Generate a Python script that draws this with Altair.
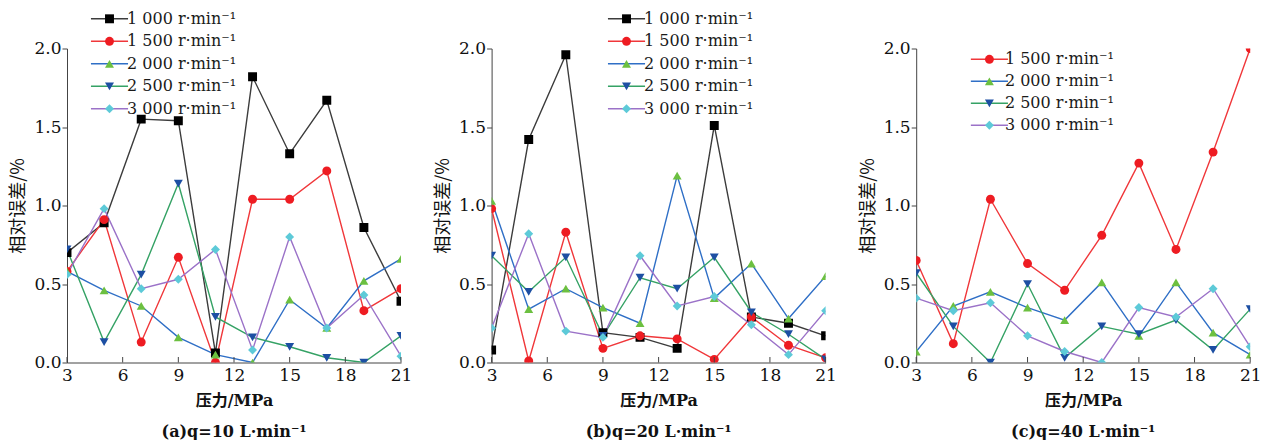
import altair as alt
import pandas as pd

# ---------------- data ----------------
pressure = [3, 5, 7, 9, 11, 13, 15, 17, 19, 21]

names_ab = ["1 000 r·min⁻¹", "1 500 r·min⁻¹", "2 000 r·min⁻¹", "2 500 r·min⁻¹", "3 000 r·min⁻¹"]
names_c = ["1 500 r·min⁻¹", "2 000 r·min⁻¹", "2 500 r·min⁻¹", "3 000 r·min⁻¹"]

# (a) q = 10 L/min
a_1000 = [0.70, 0.89, 1.55, 1.54, 0.06, 1.82, 1.33, 1.67, 0.86, 0.39]
a_1500 = [0.58, 0.91, 0.13, 0.67, 0.00, 1.04, 1.04, 1.22, 0.33, 0.47]
a_2000 = [0.58, 0.46, 0.36, 0.16, 0.05, 0.00, 0.40, 0.22, 0.52, 0.66]
a_2500 = [0.72, 0.13, 0.56, 1.14, 0.29, 0.16, 0.10, 0.03, 0.00, 0.17]
a_3000 = [0.56, 0.98, 0.47, 0.53, 0.72, 0.08, 0.80, 0.22, 0.43, 0.04]

# (b) q = 20 L/min
b_1000 = [0.08, 1.42, 1.96, 0.19, 0.16, 0.09, 1.51, 0.29, 0.25, 0.17]
b_1500 = [0.98, 0.01, 0.83, 0.09, 0.17, 0.15, 0.02, 0.29, 0.11, 0.03]
b_2000 = [1.03, 0.34, 0.47, 0.35, 0.25, 1.19, 0.41, 0.63, 0.28, 0.55]
b_2500 = [0.68, 0.45, 0.67, 0.17, 0.54, 0.47, 0.67, 0.32, 0.18, 0.02]
b_3000 = [0.22, 0.82, 0.20, 0.16, 0.68, 0.36, 0.42, 0.24, 0.05, 0.33]

# (c) q = 40 L/min
c_1500 = [0.65, 0.12, 1.04, 0.63, 0.46, 0.81, 1.27, 0.72, 1.34, 2.00]
c_2000 = [0.07, 0.36, 0.45, 0.35, 0.27, 0.51, 0.17, 0.51, 0.19, 0.05]
c_2500 = [0.57, 0.23, 0.00, 0.50, 0.03, 0.23, 0.18, 0.27, 0.08, 0.34]
c_3000 = [0.41, 0.33, 0.38, 0.17, 0.07, 0.00, 0.35, 0.29, 0.47, 0.10]

x_ticks = [3, 6, 9, 12, 15, 18, 21]
y_ticks = [0.0, 0.5, 1.0, 1.5, 2.0]
captions = ["(a)q=10 L·min⁻¹", "(b)q=20 L·min⁻¹", "(c)q=40 L·min⁻¹"]
x_title = "压力/MPa"
y_title = "相对误差/%"

# ---------------- styles ----------------
line_colors = {"1 000 r·min⁻¹": "#3c3c3c", "1 500 r·min⁻¹": "#f0373a",
               "2 000 r·min⁻¹": "#2f6fc6", "2 500 r·min⁻¹": "#35a265",
               "3 000 r·min⁻¹": "#9b72c8"}
marker_colors = {"1 000 r·min⁻¹": "#000000", "1 500 r·min⁻¹": "#ee1c22",
                 "2 000 r·min⁻¹": "#6cc040", "2 500 r·min⁻¹": "#1d4fa3",
                 "3 000 r·min⁻¹": "#5dcad8"}
marker_shapes = {"1 000 r·min⁻¹": "square", "1 500 r·min⁻¹": "circle",
                 "2 000 r·min⁻¹": "triangle-up", "2 500 r·min⁻¹": "triangle-down",
                 "3 000 r·min⁻¹": "diamond"}

SERIF = "DejaVu Serif, Noto Sans CJK SC"
CJK = "Noto Sans CJK SC"
AXIS_COLOR = "#444444"
W, H = 334, 314


def make_panel(names, series, caption, lx, ly, label_offset, row_pad):
    rows = []
    for k, (n, vals) in enumerate(zip(names, series)):
        for p, v in zip(pressure, vals):
            rows.append({"p": p, "e": v, "s": n, "k": k})
    df = pd.DataFrame(rows)
    ticks_df = pd.DataFrame({"p": x_ticks})

    x_axis = alt.Axis(values=x_ticks, ticks=False, grid=False, labelFlush=False,
                      labelFont=SERIF, labelFontSize=17, labelColor="#111111",
                      labelPadding=5, domainColor=AXIS_COLOR,
                      title=x_title, titleFont=SERIF, titleFontSize=16,
                      titleFontWeight="bold", titleColor="#111111", titlePadding=9)
    y_axis = alt.Axis(values=y_ticks, format=".1f", grid=False,
                      tickSize=5, tickColor=AXIS_COLOR, domainColor=AXIS_COLOR,
                      labelFont=SERIF, labelFontSize=17, labelColor="#111111",
                      labelPadding=1, title=y_title, titleFont=CJK,
                      titleFontSize=18, titleFontWeight="normal",
                      titleColor="#111111", titlePadding=6)
    xs = alt.Scale(domain=[3, 21], nice=False, zero=False)
    ys = alt.Scale(domain=[0, 2], nice=False)

    common_leg = dict(orient="none", legendX=lx, legendY=ly, direction="vertical",
                      padding=0, rowPadding=row_pad, labelFont=SERIF,
                      labelFontSize=16, labelColor="#1a1a1a", labelLimit=400)

    lines = alt.Chart(df).mark_line(strokeWidth=1.4, clip=True).encode(
        x=alt.X("p:Q", scale=xs, axis=x_axis),
        y=alt.Y("e:Q", scale=ys, axis=y_axis),
        color=alt.Color("s:N", title=None,
                        scale=alt.Scale(domain=names, range=[line_colors[n] for n in names]),
                        legend=alt.Legend(symbolType="M-4,0H4", symbolSize=86,
                                          symbolStrokeWidth=1.4,
                                          labelOffset=label_offset, **common_leg)),
        order="p:Q",
    )
    pleg = alt.Legend(symbolSize=80, labelOpacity=0, labelOffset=label_offset, **common_leg)
    points = alt.Chart(df).mark_point(filled=True, size=80, opacity=1, clip=True).encode(
        x=alt.X("p:Q", scale=xs, axis=x_axis),
        y=alt.Y("e:Q", scale=ys, axis=y_axis),
        color=alt.Color("s:N", title=None,
                        scale=alt.Scale(domain=names, range=[marker_colors[n] for n in names]),
                        legend=pleg),
        shape=alt.Shape("s:N", title=None,
                        scale=alt.Scale(domain=names, range=[marker_shapes[n] for n in names]),
                        legend=pleg),
    )
    tick_marks = alt.Chart(ticks_df).mark_rule(color=AXIS_COLOR, strokeWidth=1).encode(
        x=alt.X("p:Q", scale=xs, axis=x_axis),
        y=alt.datum(0),
        y2=alt.datum(0.035),
    )
    return alt.layer(lines, points, tick_marks).resolve_scale(
        color="independent", shape="independent"
    ).properties(
        width=W, height=H,
        title=alt.TitleParams(text=caption, orient="bottom", anchor="middle",
                              font=SERIF, fontSize=16, fontWeight="bold",
                              color="#111111", offset=15),
    )


pa = make_panel(names_ab, [a_1000, a_1500, a_2000, a_2500, a_3000], captions[0], 34.5, -37.7, 9.5, 6.5)
pb = make_panel(names_ab, [b_1000, b_1500, b_2000, b_2500, b_3000], captions[1], 126.9, -37.7, 9.5, 6.5)
pc = make_panel(names_c, [c_1500, c_2000, c_2500, c_3000], captions[2], 65.2, 2.8, 7.5, 6.0)

chart = alt.hconcat(pa, pb, pc, spacing=90.6, bounds="flush").resolve_scale(
    color="independent", shape="independent"
).properties(
    padding={"left": 9, "top": 10.5, "right": 0, "bottom": 0}
).configure(background="white").configure_view(strokeWidth=0)

chart.save("out.html", embed_options={"renderer": "svg", "actions": False})
